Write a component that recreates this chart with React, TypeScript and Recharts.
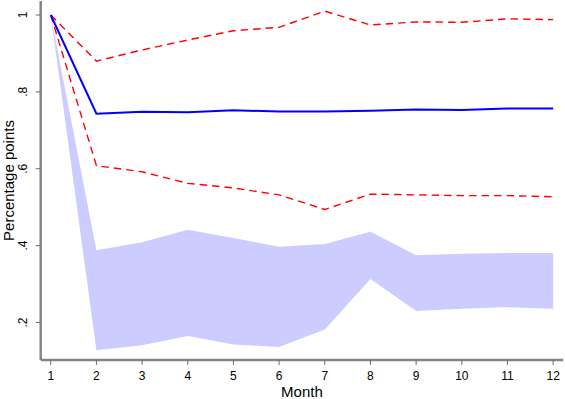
import React from "react";
import {
  ComposedChart,
  Area,
  Line,
  XAxis,
  YAxis,
} from "recharts";

const months = [1, 2, 3, 4, 5, 6, 7, 8, 9, 10, 11, 12];
const estimate = [1, 0.743, 0.748, 0.747, 0.752, 0.749, 0.749, 0.751, 0.754, 0.753, 0.757, 0.757];
const upperCI = [1, 0.88, 0.909, 0.935, 0.959, 0.968, 1.01, 0.974, 0.982, 0.981, 0.99, 0.988];
const lowerCI = [1, 0.608, 0.592, 0.562, 0.55, 0.532, 0.494, 0.534, 0.532, 0.53, 0.53, 0.527];
const bandHigh = [1, 0.388, 0.409, 0.441, 0.42, 0.397, 0.404, 0.436, 0.375, 0.379, 0.381, 0.381];
const bandLow = [1, 0.128, 0.141, 0.165, 0.143, 0.136, 0.182, 0.313, 0.23, 0.236, 0.24, 0.236];
const yTicks = [0.2, 0.4, 0.6, 0.8, 1];
const xTitle = "Month";
const yTitle = "Percentage points";

const data = months.map((m, i) => ({
  month: m,
  est: estimate[i],
  hi: upperCI[i],
  lo: lowerCI[i],
  band: [bandLow[i], bandHigh[i]],
}));

const FONT = "'Liberation Sans', Arial, Helvetica, sans-serif";

const fmtY = (v: number) => {
  if (v === 1) return "1";
  return v.toFixed(1).replace(/^0/, "");
};

const YTick = (props: any) => {
  const { x, y, payload } = props;
  const bx = x - 7;
  return (
    <text
      x={0}
      y={0}
      transform={`translate(${bx},${y}) rotate(-90)`}
      textAnchor="middle"
      fontSize={12}
      fontFamily={FONT}
      fill="#000"
    >
      {fmtY(payload.value)}
    </text>
  );
};

const XTick = (props: any) => {
  const { x, y, payload } = props;
  return (
    <text
      x={x}
      y={y + 13}
      textAnchor="middle"
      fontSize={12}
      fontFamily={FONT}
      fill="#000"
    >
      {payload.value}
    </text>
  );
};

const XTitle = (props: any) => {
  const vb = props.viewBox || {};
  return (
    <text
      x={vb.x + vb.width / 2}
      y={vb.y + 36.5}
      textAnchor="middle"
      fontSize={15}
      fontFamily={FONT}
      fill="#000"
    >
      {xTitle}
    </text>
  );
};

const YTitle = (props: any) => {
  const vb = props.viewBox || {};
  const cy = vb.y + vb.height / 2;
  return (
    <text
      x={0}
      y={0}
      transform={`translate(13.5,${cy}) rotate(-90)`}
      textAnchor="middle"
      fontSize={15}
      fontFamily={FONT}
      fill="#000"
    >
      {yTitle}
    </text>
  );
};

export default function App() {
  return (
    <div style={{ position: "absolute", left: 0, top: 0, background: "#fff" }}>
      <ComposedChart
        width={565}
        height={399}
        data={data}
        margin={{ top: 1, right: 1.8, bottom: 0, left: 0 }}
      >
        <XAxis
          dataKey="month"
          type="number"
          domain={[0.78, 12.22]}
          allowDataOverflow
          ticks={months}
          interval={0}
          height={39}
          tickSize={5}
          tickMargin={2}
          axisLine={{ stroke: "#858585", strokeWidth: 2.5 }}
          tickLine={{ stroke: "#6a6a6a", strokeWidth: 1 }}
          tick={<XTick />}
          label={<XTitle />}
        />
        <XAxis
          xAxisId="top"
          orientation="top"
          dataKey="month"
          type="number"
          domain={[0.78, 12.22]}
          height={0}
          tick={false}
          tickLine={false}
          axisLine={{ stroke: "#a8a8a8", strokeWidth: 2 }}
        />
        <YAxis
          type="number"
          domain={[0.1024, 1.0364]}
          allowDataOverflow
          ticks={yTicks}
          interval={0}
          width={40.7}
          tickSize={5}
          tickMargin={2}
          axisLine={{ stroke: "#858585", strokeWidth: 2.5 }}
          tickLine={{ stroke: "#6a6a6a", strokeWidth: 1 }}
          tick={<YTick />}
          label={<YTitle />}
        />
        <YAxis
          yAxisId="right"
          orientation="right"
          type="number"
          domain={[0.1024, 1.0364]}
          width={0}
          tick={false}
          tickLine={false}
          axisLine={{ stroke: "#a8a8a8", strokeWidth: 2 }}
        />
        <Area
          dataKey="band"
          type="linear"
          fill="#ccccff"
          fillOpacity={1}
          stroke="none"
          isAnimationActive={false}
          dot={false}
          activeDot={false}
        />
        <Line
          dataKey="hi"
          type="linear"
          stroke="#ff0000"
          strokeWidth={1.4}
          strokeDasharray="7.5 5"
          dot={false}
          activeDot={false}
          isAnimationActive={false}
        />
        <Line
          dataKey="lo"
          type="linear"
          stroke="#ff0000"
          strokeWidth={1.4}
          strokeDasharray="7.5 5"
          dot={false}
          activeDot={false}
          isAnimationActive={false}
        />
        <Line
          dataKey="est"
          type="linear"
          stroke="#0000ff"
          strokeWidth={2}
          dot={false}
          activeDot={false}
          isAnimationActive={false}
        />
      </ComposedChart>
    </div>
  );
}
